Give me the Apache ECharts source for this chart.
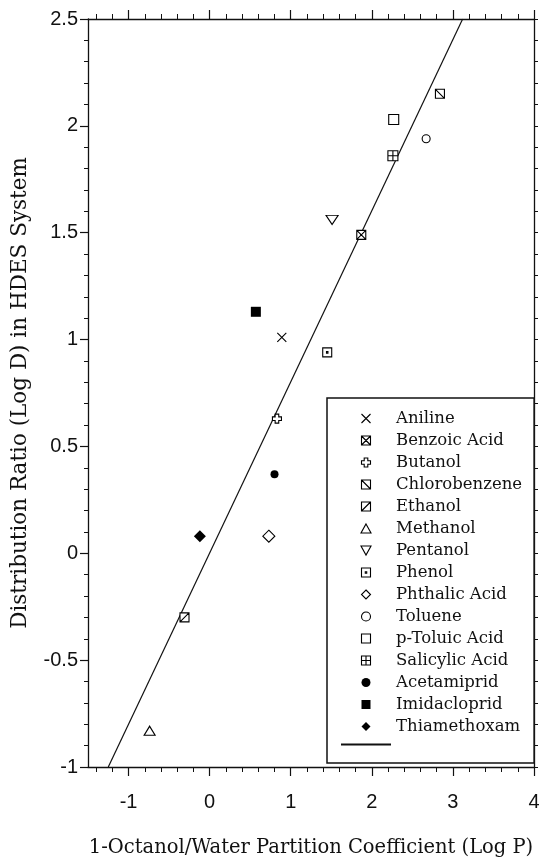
<!DOCTYPE html>
<html>
<head>
<meta charset="utf-8">
<script src="https://cdn.jsdelivr.net/npm/echarts@6/dist/echarts.min.js"></script>
<style>html,body{margin:0;padding:0;background:#fff;}#c{width:539px;height:858px;}</style>
</head>
<body>
<div id="c"></div>
<script>
// ---- data ----
const compounds = ['Aniline','Benzoic Acid','Butanol','Chlorobenzene','Ethanol','Methanol','Pentanol','Phenol','Phthalic Acid','Toluene','p-Toluic Acid','Salicylic Acid','Acetamiprid','Imidacloprid','Thiamethoxam'];
const logP = [0.89, 1.87, 0.83, 2.84, -0.31, -0.74, 1.51, 1.45, 0.73, 2.67, 2.27, 2.26, 0.80, 0.57, -0.12];
const logD = [1.01, 1.49, 0.63, 2.15, -0.30, -0.83, 1.56, 0.94, 0.08, 1.94, 2.03, 1.86, 0.37, 1.13, 0.08];
const fitX = [-1.25, 3.12];
const fitY = [-1.0, 2.5];
const xMajorTicks = [-1, 0, 1, 2, 3, 4];

// ---- styling ----
const SQ = 'M0 0L10 0L10 10L0 10Z';
const markers = [
  {sym: 'path://M0 0L10 10M10 0L0 10', size: 9, fill: 'transparent'},
  {sym: 'path://' + SQ + 'M0 0L10 10M10 0L0 10', size: 9, fill: '#fff'},
  {sym: 'path://M3 0L7 0L7 3L10 3L10 7L7 7L7 10L3 10L3 7L0 7L0 3L3 3Z', size: 9, fill: '#fff'},
  {sym: 'path://' + SQ + 'M0 0L10 10', size: 9, fill: '#fff'},
  {sym: 'path://' + SQ + 'M0 10L10 0', size: 9, fill: '#fff'},
  {sym: 'path://M5 0L10 9L0 9Z', size: [11, 9], fill: '#fff'},
  {sym: 'path://M0 0L10 0L5 9Z', size: [12, 9], fill: '#fff'},
  {sym: 'path://' + SQ + 'M4.2 4.2L5.8 4.2L5.8 5.8L4.2 5.8Z', size: 9, fill: '#fff'},
  {sym: 'path://M5 0L10 5L5 10L0 5Z', size: 12, fill: '#fff'},
  {sym: 'path://M5 0A5 5 0 1 1 5 10A5 5 0 1 1 5 0Z', size: 8, fill: '#fff'},
  {sym: 'path://' + SQ, size: 10, fill: '#fff'},
  {sym: 'path://' + SQ + 'M5 0L5 10M0 5L10 5', size: 10, fill: '#fff'},
  {sym: 'path://M5 0A5 5 0 1 1 5 10A5 5 0 1 1 5 0Z', size: 8, fill: '#000'},
  {sym: 'path://' + SQ, size: 10, fill: '#000'},
  {sym: 'path://M5 0L10 5L5 10L0 5Z', size: 12, fill: '#000'}
];

const xMinorTicks = [];
for (let k = -7; k <= 19; k++) {
  const v = Math.round(k * 2) / 10;
  if (Math.abs(v - Math.round(v)) > 1e-9) xMinorTicks.push(v);
}

const lineCol = '#111';
const labelFont = {fontFamily: 'Liberation Sans', fontSize: 20, color: '#111'};

const chart = echarts.init(document.getElementById('c'), null, {renderer: 'canvas'});

function markerStyle(i) {
  return {color: markers[i].fill, borderColor: '#000', borderWidth: markers[i].fill === '#000' ? 0 : 1.1, opacity: 1};
}

const scatterSeries = compounds.map((name, i) => ({
  type: 'scatter',
  name: name,
  xAxisIndex: 0, yAxisIndex: 0,
  data: [[logP[i], logD[i]]],
  symbol: markers[i].sym,
  symbolSize: markers[i].size,
  itemStyle: markerStyle(i),
  emphasis: {disabled: true},
  z: 4
}));

const fitSeries = {
  type: 'line', name: 'Fit',
  xAxisIndex: 0, yAxisIndex: 0,
  data: fitX.map((x, i) => [x, fitY[i]]),
  symbol: 'none',
  itemStyle: {color: '#111'},
  lineStyle: {color: '#111', width: 1.2},
  emphasis: {disabled: true},
  clip: true, z: 3
};

const gridBox = {left: 88, right: 5, top: 19, bottom: 91, outerBoundsMode: 'none', containLabel: false};

chart.setOption({
  animation: false,
  backgroundColor: '#fff',
  grid: [Object.assign({}, gridBox), Object.assign({}, gridBox)],
  xAxis: [
    {type: 'value', gridIndex: 0, position: 'bottom', min: -1.5, max: 4,
     name: '1-Octanol/Water Partition Coefficient (Log P)', nameLocation: 'middle', nameGap: 71,
     nameTextStyle: {fontFamily: 'DejaVu Serif', fontSize: 19.5, color: '#111'},
     axisLine: {show: true, onZero: false, lineStyle: {color: lineCol, width: 1.3}},
     axisTick: {show: true, length: 9, customValues: xMajorTicks, lineStyle: {color: lineCol, width: 1.2}},
     axisLabel: {show: true, customValues: xMajorTicks, margin: 25, ...labelFont},
     splitLine: {show: false}},
    {type: 'value', gridIndex: 0, position: 'top', min: -1.5, max: 4,
     axisLine: {show: true, onZero: false, lineStyle: {color: lineCol, width: 1.3}},
     axisTick: {show: true, length: 9, customValues: xMajorTicks, lineStyle: {color: lineCol, width: 1.2}},
     axisLabel: {show: false},
     splitLine: {show: false}},
    {type: 'value', gridIndex: 1, position: 'bottom', min: -1.5, max: 4,
     axisLine: {show: false, onZero: false},
     axisTick: {show: true, length: 5, customValues: xMinorTicks, lineStyle: {color: lineCol, width: 1}},
     axisLabel: {show: false},
     splitLine: {show: false}},
    {type: 'value', gridIndex: 1, position: 'top', min: -1.5, max: 4,
     axisLine: {show: false, onZero: false},
     axisTick: {show: true, length: 5, customValues: xMinorTicks, lineStyle: {color: lineCol, width: 1}},
     axisLabel: {show: false},
     splitLine: {show: false}}
  ],
  yAxis: [
    {type: 'value', gridIndex: 0, position: 'left', min: -1, max: 2.5, interval: 0.5,
     name: 'Distribution Ratio (Log D) in HDES System', nameLocation: 'middle', nameGap: 57, nameRotate: 90,
     nameTextStyle: {fontFamily: 'DejaVu Serif', fontSize: 21.5, color: '#111'},
     axisLine: {show: true, onZero: false, lineStyle: {color: lineCol, width: 1.3}},
     axisTick: {show: true, length: 8, lineStyle: {color: lineCol, width: 1.2}},
     minorTick: {show: true, splitNumber: 5, length: 4, lineStyle: {color: lineCol, width: 1}},
     axisLabel: {show: true, margin: 10, ...labelFont},
     splitLine: {show: false}, minorSplitLine: {show: false}},
    {type: 'value', gridIndex: 0, position: 'right', min: -1, max: 2.5, interval: 0.5,
     axisLine: {show: true, onZero: false, lineStyle: {color: lineCol, width: 1.3}},
     axisTick: {show: true, length: 4, lineStyle: {color: lineCol, width: 1}},
     minorTick: {show: true, splitNumber: 5, length: 4, lineStyle: {color: lineCol, width: 1}},
     axisLabel: {show: false},
     splitLine: {show: false}, minorSplitLine: {show: false}},
    {type: 'value', gridIndex: 1, min: -1, max: 2.5, show: false}
  ],
  legend: {
    orient: 'vertical', left: 327, top: 398,
    padding: [12, 12, 15, 13],
    itemWidth: 50, itemHeight: 9, itemGap: 5,
    borderColor: '#111', borderWidth: 1.5,
    backgroundColor: '#fff',
    selectedMode: false,
    textStyle: {fontFamily: 'DejaVu Serif', fontSize: 16.5, color: '#111'},
    formatter: n => (n === 'Fit' ? '' : n),
    data: compounds.map((n, i) => ({
      name: n, icon: markers[i].sym,
      itemStyle: markerStyle(i)
    })).concat([{name: 'Fit', itemStyle: {color: 'transparent', borderWidth: 0}}])
  },
  series: scatterSeries.concat([fitSeries])
});
</script>
</body>
</html>
